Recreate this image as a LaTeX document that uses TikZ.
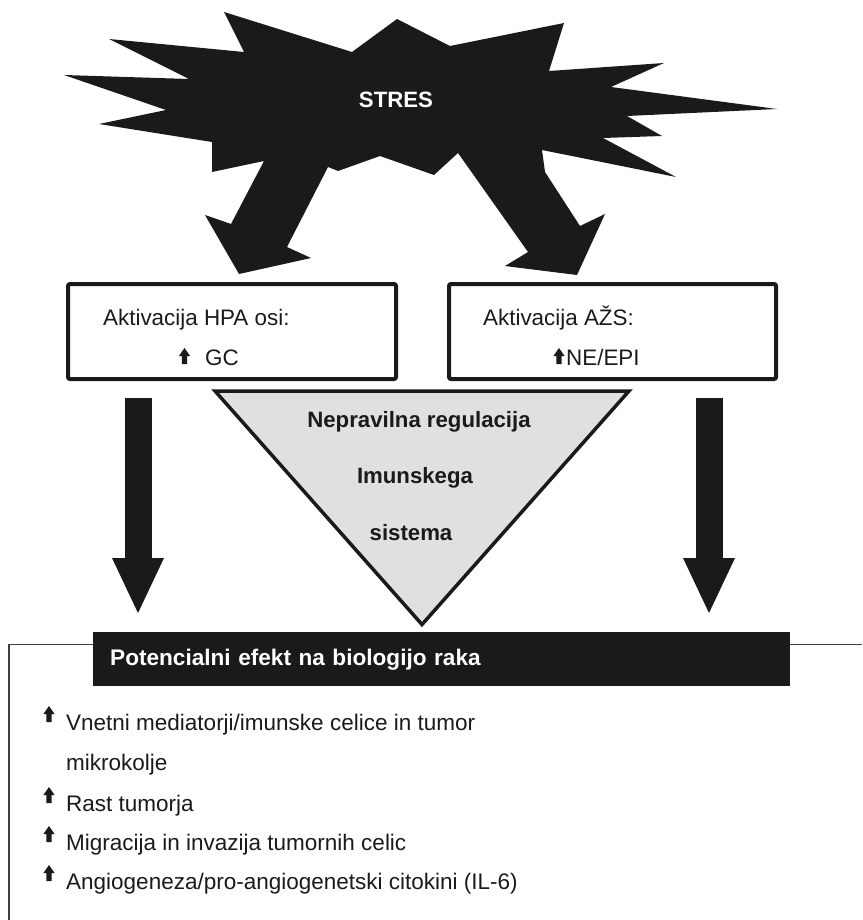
\documentclass[tikz,border=0pt]{standalone}
\usepackage{fontspec}
\setmainfont{Liberation Sans}
\usetikzlibrary{arrows.meta,calc}
\definecolor{ink}{HTML}{1A1A1A}
\definecolor{trigray}{HTML}{E0E0E0}

\begin{document}
\begin{tikzpicture}[
  x=1pt, y=-1pt,
  box/.style={draw=ink, line width=4pt, rounded corners=2pt, minimum height=95pt},
  txt/.style={inner sep=0pt, text=ink, anchor=base west, font=\fontsize{22.4}{26}\selectfont},
  dystxt/.style={inner sep=0pt, text=ink, anchor=base, font=\fontsize{22.2}{26}\selectfont\bfseries},
  itemtxt/.style={inner sep=0pt, text=ink, anchor=base west, font=\fontsize{22.5}{26}\selectfont},
  bigarrow/.style={draw=ink, line width=27pt, -{Triangle[width=52pt,length=55pt,line width=0pt]}, shorten <=17pt, shorten >=19pt},
  frame/.style={draw=black!75, line width=1.5pt},
  uparr/.pic={\fill[ink] (-2.7,0) -- (-2.7,-8) -- (-5.6,-8) -- (0,-16) -- (5.6,-8) -- (2.7,-8) -- (2.7,0) -- cycle;}
]
  \useasboundingbox (0,0) rectangle (862,920);

  % Stress burst
  \fill[ink] (64,75) -- (189,79) -- (109,39) -- (244,52) -- (224,12) -- (352,52) -- (397,19)
    -- (450,46) -- (564,23) -- (549,71) -- (664,63) -- (611,87) -- (777,109) -- (627,116)
    -- (662,136) -- (603,138) -- (676,177) -- (542,150) -- (545,172) -- (580,226) -- (605,214)
    -- (577,275) -- (505,266) -- (528,252) -- (458,153) -- (434,175) -- (380,156) -- (338,171)
    -- (328,167) -- (287,247) -- (311,258) -- (239,274) -- (205,215) -- (231,224) -- (264,161)
    -- (212,172) -- (212,142) -- (99,124) -- (166,110) -- cycle;
  \node[dystxt, text=white] (stres) at (396,108) {STRES};

  % Boxes
  \node[box, minimum width=328pt] (hpa) at (232,331.5) {};
  \node[box, minimum width=327pt] (azs) at (612.5,331.5) {};
  \node[txt] (hpaT) at (103,325) {Aktivacija HPA osi:};
  \node[txt] (hpaGC) at (205,365) {GC};
  \pic at ($(hpaGC.base west)+(-20.5,-1)$) {uparr};
  \node[txt] (azsT) at (483,325) {Aktivacija AŽS:};
  \node[txt] (azsNE) at (566,365) {NE/EPI};
  \pic at ($(azsNE.base west)+(-7,-1)$) {uparr};

  % Immune triangle
  \filldraw[fill=trigray, draw=ink, line width=3.5pt] (215,391) -- (629,391) -- (422,624.5) -- cycle;
  \node[dystxt] (dys1) at (419,427) {Nepravilna regulacija};
  \node[dystxt] (dys2) at (415,483) {Imunskega};
  \node[dystxt] (dys3) at (411,540) {sistema};

  % Effects panel
  \draw[frame] (9,920) -- (9,644.5) -- (862,644.5);
  \node[fill=ink, text=white, anchor=north west, minimum height=54pt, text width=663pt,
        inner xsep=17pt, inner ysep=0pt, align=left,
        font=\fontsize{22.6}{26}\selectfont\bfseries] (effects) at (93,632) {Potencialni efekt na biologijo raka};

  \node[itemtxt] (item1) at (66,730) {Vnetni mediatorji/imunske celice in tumor};
  \node[itemtxt] (item1b) at (66,770) {mikrokolje};
  \node[itemtxt] (item2) at (66,811) {Rast tumorja};
  \node[itemtxt] (item3) at (66,850) {Migracija in invazija tumornih celic};
  \node[itemtxt] (item4) at (66,889) {Angiogeneza/pro-angiogenetski citokini (IL-6)};
  \pic at ($(item1.base west)+(-17,-8)$) {uparr};
  \pic at ($(item2.base west)+(-17,-8)$) {uparr};
  \pic at ($(item3.base west)+(-17,-8)$) {uparr};
  \pic at ($(item4.base west)+(-17,-8)$) {uparr};

  % Arrows
  \coordinate (lTop) at ([xshift=-94pt]hpa.south);
  \coordinate (rTop) at ([xshift=96.5pt]azs.south);
  \draw[bigarrow] (lTop) -- (lTop |- effects.north);
  \draw[bigarrow] (rTop) -- (rTop |- effects.north);

\end{tikzpicture}
\end{document}
